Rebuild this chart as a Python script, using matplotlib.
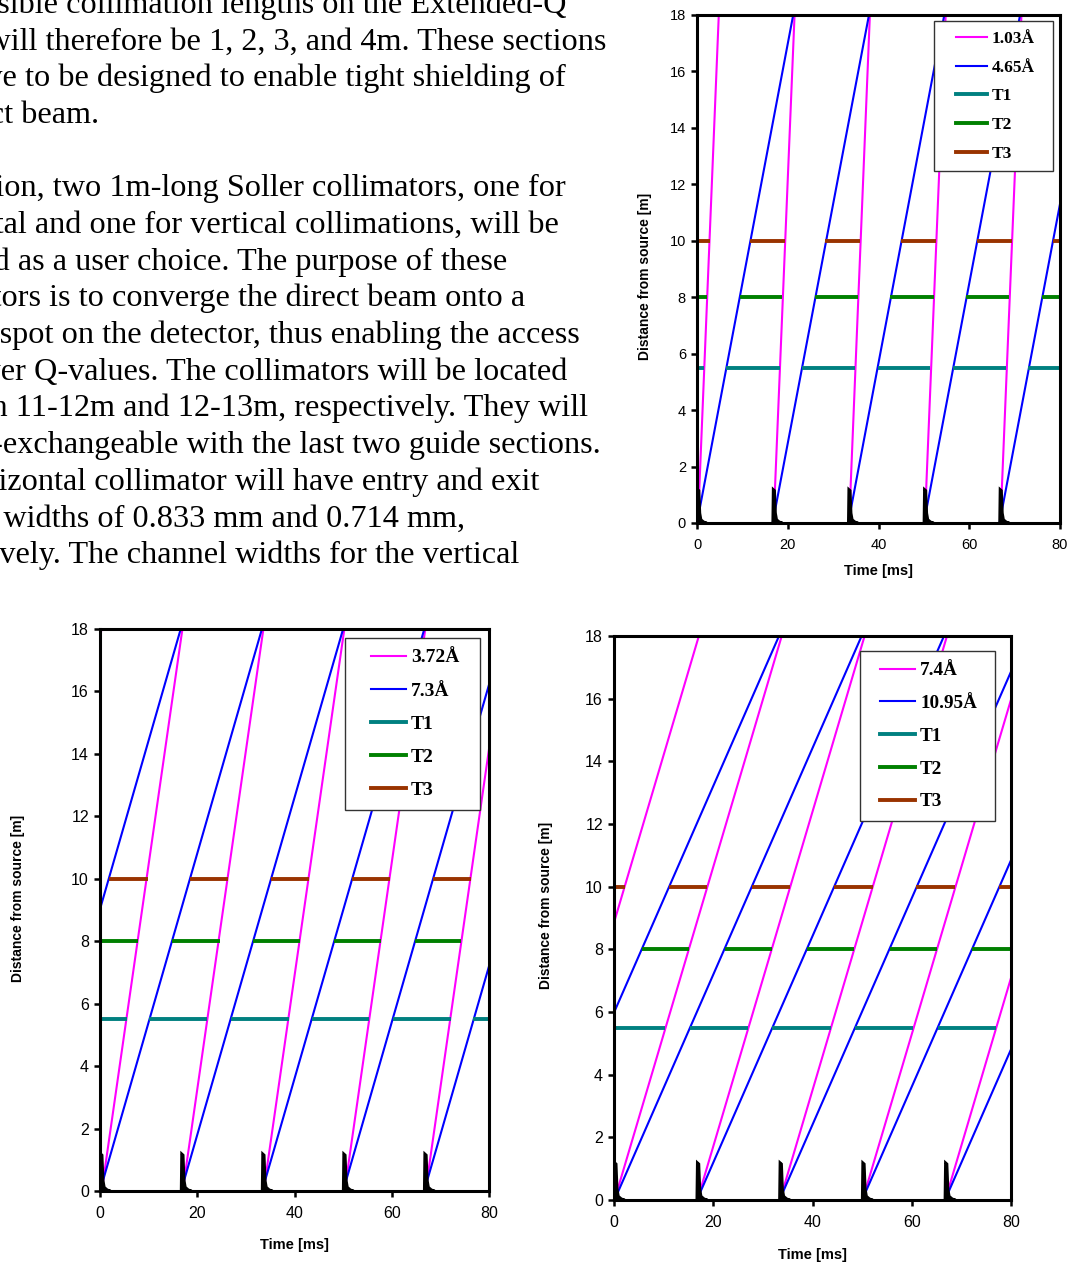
import matplotlib
matplotlib.use('Agg')
import matplotlib.pyplot as plt
from matplotlib.lines import Line2D
from matplotlib.legend_handler import HandlerLine2D

# --- Page text (right ends of the visible lines, in pixels) ---
TEXT_LINES = [
    "The possible collimation lengths on the Extended-Q",
    "SANS will therefore be 1, 2, 3, and 4m. These sections",
    "will have to be designed to enable tight shielding of",
    "the direct beam.",
    "",
    "In addition, two 1m-long Soller collimators, one for",
    "horizontal and one for vertical collimations, will be",
    "provided as a user choice. The purpose of these",
    "collimators is to converge the direct beam onto a",
    "small spot on the detector, thus enabling the access",
    "to lower Q-values. The collimators will be located",
    "between 11-12m and 12-13m, respectively. They will",
    "be inter-exchangeable with the last two guide sections.",
    "The horizontal collimator will have entry and exit",
    "channel widths of 0.833 mm and 0.714 mm,",
    "respectively. The channel widths for the vertical",
]
TEXT_RIGHT = [567, 606, 566, 99, 0, 566, 559, 507, 525, 580, 567, 588, 601, 539, 465, 519]

# --- Source pulses (ms) and pulse shape ---
pulse_times = [0.0, 16.67, 33.33, 50.0, 66.67]
pulse_dt = [0.0, 0.1, 0.45, 0.65, 0.9, 1.5, 2.2]
pulse_h = [0.0, 1.2, 1.15, 0.35, 0.12, 0.04, 0.0]

# --- Chart 1: 1.03A / 4.65A ---
c1_labels = ["1.03Å", "4.65Å"]
c1_fast_t0 = [0.2, 16.87, 33.53, 50.2, 66.87]
c1_fast_t1 = [4.8, 21.5, 38.1, 54.8, 71.5]
c1_slow_t0 = [0.0, 16.67, 33.33, 50.0, 66.67]
c1_slow_t1 = [21.2, 37.9, 54.5, 71.2, 87.9]
c1_T1 = [(0, 1.5), (6.4, 18.3), (23.1, 34.9), (39.8, 51.4), (56.4, 68.1), (73.0, 80)]
c1_T2 = [(0, 2.3), (9.5, 18.8), (26.1, 35.4), (42.6, 52.2), (59.2, 68.8), (76.0, 80)]
c1_T3 = [(0, 2.9), (11.7, 19.3), (28.3, 36.0), (44.9, 52.7), (61.7, 69.4), (78.4, 80)]

# --- Chart 2: 3.72A / 7.3A ---
c2_labels = ["3.72Å", "7.3Å"]
c2_fast_t0 = [-16.3, 0.35, 17.0, 33.65, 50.3, 66.95]
c2_fast_t1 = [0.3, 16.95, 33.6, 50.25, 66.9, 83.55]
c2_slow_t0 = [-16.7, 0.0, 16.67, 33.33, 50.0, 66.67]
c2_slow_t1 = [16.6, 33.3, 50.0, 66.7, 83.3, 100.0]
c2_T1 = [(0, 5.5), (10.05, 22.1), (26.9, 38.8), (43.5, 55.4), (60.2, 72.1), (76.8, 80)]
c2_T2 = [(0, 7.8), (14.9, 24.6), (31.5, 41.1), (48.1, 57.8), (64.8, 74.3)]
c2_T3 = [(1.77, 9.77), (18.55, 26.34), (35.2, 43.0), (51.8, 59.6), (68.4, 76.3)]

# --- Chart 3: 7.4A / 10.95A ---
c3_labels = ["7.4Å", "10.95Å"]
c3_fast_t0 = [-16.55, 0.1, 16.8, 33.45, 50.1, 66.75]
c3_fast_t1 = [17.1, 33.8, 50.5, 67.1, 83.8, 100.4]
c3_slow_t0 = [-16.55, 0.1, 16.7, 33.35, 50.0, 66.7]
c3_slow_t1 = [33.25, 49.9, 66.5, 83.15, 99.8, 116.5]
c3_T1 = [(0, 10.2), (15.3, 27.1), (31.8, 43.7), (48.5, 60.2), (65.2, 76.9)]
c3_T2 = [(5.6, 15.1), (22.3, 31.8), (38.9, 48.4), (55.6, 65.0), (72.2, 80)]
c3_T3 = [(0, 2.2), (11.1, 18.8), (27.8, 35.5), (44.4, 52.2), (60.9, 68.7), (77.6, 80)]

T_LEVELS = [5.5, 8.0, 10.0]
DIST_MAX = 18.0

PINK = '#FF00FF'
BLUE = '#0000FF'
T_COLORS = ['#008080', '#008000', '#993300']

W, H = 1068, 1264


def draw_chart(ax, labels, fast_t0, fast_t1, slow_t0, slow_t1, t_segs, tick_fs,
               ylab_xy, xlab_xy, leg_box, leg_fs, leg_xpad, leg_hlen, leg_space):
    for t0, t1 in zip(fast_t0, fast_t1):
        ax.plot([t0, t1], [0, DIST_MAX], color=PINK, lw=1.5, solid_capstyle='butt')
    for t0, t1 in zip(slow_t0, slow_t1):
        ax.plot([t0, t1], [0, DIST_MAX], color=BLUE, lw=1.5, solid_capstyle='butt')
    for level, segs, col in zip(T_LEVELS, t_segs, T_COLORS):
        for a, b in segs:
            ax.plot([a, b], [level, level], color=col, lw=2.8, solid_capstyle='butt')
    for p in pulse_times:
        xs = [p + d for d in pulse_dt]
        ax.fill(xs, pulse_h, color='black', lw=1.8, zorder=4)

    ax.set_xlim(0, 80)
    ax.set_ylim(0, DIST_MAX)
    ax.set_xticks([0, 20, 40, 60, 80])
    ax.set_yticks(range(0, 19, 2))
    for s in ax.spines.values():
        s.set_linewidth(2.2)
        s.set_zorder(5)
    ax.tick_params(direction='out', length=4, width=1.8, labelsize=tick_fs,
                   top=False, right=False)
    ax.tick_params(axis='x', pad=7)
    ax.tick_params(axis='y', pad=4)
    for lab in ax.get_xticklabels() + ax.get_yticklabels():
        lab.set_family('Liberation Sans')

    ax.set_ylabel('Distance from source [m]', fontsize=10, fontweight='bold',
                  family='Liberation Sans', va='center')
    ax.yaxis.set_label_coords(*ylab_xy)
    ax.set_xlabel('Time [ms]', fontsize=10.5, fontweight='bold',
                  family='Liberation Sans', va='center')
    ax.xaxis.set_label_coords(*xlab_xy)

    handles = [Line2D([], [], color=PINK, lw=1.5),
               Line2D([], [], color=BLUE, lw=1.5)]
    handles += [Line2D([], [], color=c, lw=2.8) for c in T_COLORS]
    hmap = {h: HandlerLine2D(xpad=leg_xpad) for h in handles}
    leg = ax.legend(handles, labels + ['T1', 'T2', 'T3'], loc='upper left',
                    bbox_to_anchor=leg_box, mode='expand', borderaxespad=0,
                    fancybox=False, framealpha=1, edgecolor='#333333',
                    handlelength=leg_hlen, handletextpad=0.25, labelspacing=leg_space,
                    borderpad=0.56, handler_map=hmap,
                    prop={'family': 'Liberation Serif', 'weight': 'bold', 'size': leg_fs})
    leg.get_frame().set_linewidth(1.0)
    leg.set_zorder(6)


fig = plt.figure(figsize=(W / 100, H / 100), dpi=100)

for i, (s, xr) in enumerate(zip(TEXT_LINES, TEXT_RIGHT)):
    if not s:
        continue
    base = 12.7 + 36.7 * i
    fig.text(xr / W, 1 - base / H, s, ha='right', va='baseline', fontsize=23.2,
             family='Liberation Serif', color='black')


def add_axes(x0, x1, y0, y1):
    return fig.add_axes([x0 / W, 1 - y1 / H, (x1 - x0) / W, (y1 - y0) / H])


ax1 = add_axes(697, 1060, 15, 523)
draw_chart(ax1, c1_labels, c1_fast_t0, c1_fast_t1, c1_slow_t0, c1_slow_t1,
           [c1_T1, c1_T2, c1_T3], 10.5, (-0.143, 0.486), (0.5, -0.094),
           (0.653, 0.683, 0.328, 0.305), 12.5, 0.7, 2.5, 0.72)

ax2 = add_axes(100, 489, 629, 1191)
draw_chart(ax2, c2_labels, c2_fast_t0, c2_fast_t1, c2_slow_t0, c2_slow_t1,
           [c2_T1, c2_T2, c2_T3], 11.5, (-0.211, 0.521), (0.5, -0.096),
           (0.630, 0.676, 0.346, 0.308), 14.0, 0.78, 2.58, 0.80)

ax3 = add_axes(614, 1011, 636, 1200)
draw_chart(ax3, c3_labels, c3_fast_t0, c3_fast_t1, c3_slow_t0, c3_slow_t1,
           [c3_T1, c3_T2, c3_T3], 11.5, (-0.171, 0.523), (0.5, -0.0975),
           (0.620, 0.670, 0.340, 0.303), 13.8, 0.5, 2.32, 0.80)

fig.savefig('out.png', dpi=100)
